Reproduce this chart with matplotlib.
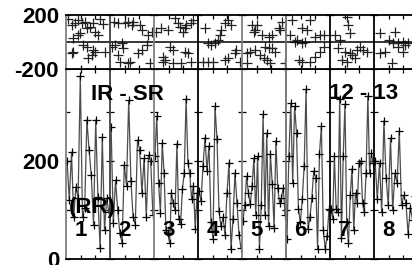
import matplotlib
matplotlib.use("Agg")
import matplotlib.pyplot as plt

plt.rcParams['font.family'] = ['Liberation Sans', 'DejaVu Sans']
plt.rcParams['font.weight'] = 'bold'

# bottom panel: interval series per segment (ms)
seg_values = [
    [200, 120, 218, 86, 147, 124, 373, 86, 105, 284, 222, 171, 70, 284, 127, 22, 249, 59, 124, 95],
    [269, 73, 161, 100, 53, 33, 192, 150, 324, 160, 86, 70, 243, 222, 135, 206, 86, 212, 200, 90],
    [210, 292, 155, 94, 237, 176, 60, 53, 33, 135, 114, 100, 235, 82, 71, 143, 176, 327, 196, 175, 122, 150, 61, 135],
    [139, 118, 190, 247, 180, 231, 75, 41, 312, 245, 98, 67, 85, 50, 135, 196, 20, 82, 176, 114, 50, 22],
    [78, 110, 169, 135, 112, 150, 206, 90, 210, 20, 110, 296, 90, 257, 67, 214, 153, 63, 241, 145, 114, 125, 145, 90],
    [41, 210, 318, 155, 312, 257, 102, 75, 122, 190, 347, 61, 85, 124, 180, 165, 20, 215, 271, 60, 20, 47, 102],
    [102, 82, 210, 102, 95, 327, 43, 210, 316, 75, 33, 130, 184, 60, 135, 114, 196, 200, 114, 95, 176, 333, 176, 216, 196],
    [200, 122, 196, 95, 282, 166, 110, 247, 100, 175, 155, 261, 110, 130, 115, 51, 105, 80, 129, 150],
]

# top panel: difference scatter per segment (position in segment, value)
top_x = [
    [0.05, 0.13, 0.20, 0.28, 0.32, 0.36, 0.43, 0.47, 0.55, 0.62, 0.66, 0.73, 0.77, 0.85, 0.17, 0.28, 0.39, 0.47, 0.17, 0.13, 0.51, 0.58, 0.66, 0.62, 0.89],
    [0.08, 0.19, 0.34, 0.42, 0.49, 0.53, 0.68, 0.72, 0.87, 0.95, 0.04, 0.11, 0.19, 0.27, 0.30, 0.23, 0.42, 0.45, 0.64, 0.72, 0.83, 0.91],
    [0.05, 0.17, 0.32, 0.47, 0.55, 0.58, 0.66, 0.70, 0.73, 0.85, 0.89, 0.20, 0.24, 0.20, 0.36, 0.43, 0.70, 0.77, 0.85, 0.43, 0.62],
    [0.15, 0.53, 0.61, 0.68, 0.76, 0.49, 0.45, 0.38, 0.23, 0.30, 0.11, 0.23, 0.34, 0.61, 0.68, 0.83, 0.95, 0.87],
    [0.23, 0.34, 0.30, 0.27, 0.45, 0.61, 0.68, 0.83, 0.91, 0.87, 0.11, 0.19, 0.30, 0.42, 0.49, 0.53, 0.61, 0.68, 0.76, 0.57, 0.64, 0.11, 0.98],
    [0.14, 0.36, 0.55, 0.48, 0.10, 0.25, 0.36, 0.44, 0.67, 0.78, 0.86, 0.29, 0.36, 0.55, 0.67, 0.78, 0.86, 0.21],
    [0.42, 0.45, 0.38, 0.11, 0.23, 0.19, 0.34, 0.45, 0.61, 0.68, 0.76, 0.83, 0.27, 0.38, 0.57, 0.49],
    [0.14, 0.33, 0.48, 0.44, 0.55, 0.67, 0.70, 0.78, 0.14, 0.25, 0.40, 0.55, 0.67],
]
top_y = [
    [168, 126, 138, 163, 64, 138, 151, 101, 114, 138, 77, 52, 168, 131, 27, 52, -22, -35, -72, -84, -121, -96, -72, -59, -72],
    [151, 138, 138, 151, 126, 151, 126, 89, 52, 77, -35, -22, -96, -10, -47, -146, -158, -146, -84, -59, -22, -158],
    [77, 101, 89, 175, 138, 114, 77, 101, 126, 138, 163, -109, -133, -146, -35, -59, -72, -84, -146, -158, -158],
    [101, 89, 138, 163, 126, 52, 15, -10, -10, -22, -146, -146, -146, -133, -121, -84, -146, -59],
    [126, 126, 89, 77, 52, 40, 52, 101, 151, 89, -84, -72, -59, -96, -121, -35, -47, -47, -72, -133, -158, -158, -158],
    [163, 101, 163, 89, 52, 15, -10, 2, 40, 52, 52, -133, -146, -146, -109, -72, -35, 2],
    [126, 64, 188, 52, 15, -47, -72, -84, -59, -35, -59, -72, -133, -146, -121, -96],
    [64, 15, 77, -10, -10, 2, -22, -10, -84, -72, -158, -35, -72],
]

seg_labels = ['1', '2', '3', '4', '5', '6', '7', '8']
boundary_colors = ['#808080', '#404040', '#808080', 'black', '#808080', '#707070', 'black', 'black']

W, H = 412, 265
fig = plt.figure(figsize=(W / 100, H / 100), dpi=100)

x0, seg_w = 66, 44
for i in range(len(seg_values)):
    left = (x0 + seg_w * i) / W
    # bottom panel
    ax = fig.add_axes([left, (H - 259) / H, seg_w / W, 190 / H])
    vals = seg_values[i]
    n = len(vals)
    xs = [(k + 0.5) / n for k in range(n)]
    ax.plot(xs, vals, color='0.3', lw=0.9, marker='+', ms=6, mec='black', mew=0.9)
    ax.set_xlim(0, 1)
    ax.set_ylim(0, 388)
    ax.set_xticks([1 / 3, 2 / 3])
    ax.set_xticklabels([])
    ax.set_yticks([0, 100, 200, 300])
    ax.tick_params(direction='in', length=3, width=0.9, top=True, right=True,
                   labelsize=16, pad=5)
    if i == 0:
        ax.set_yticklabels(['0', '', '200', ''], fontweight='bold')
    else:
        ax.set_yticklabels([])
    for s in ['top', 'bottom']:
        ax.spines[s].set_linewidth(1.3)
    ax.spines['left'].set_color(boundary_colors[i])
    ax.spines['left'].set_linewidth(1.3)
    ax.spines['right'].set_visible(False)

    # top panel
    at = fig.add_axes([left, (H - 69) / H, seg_w / W, 54 / H])
    at.plot(top_x[i], top_y[i], ls='none', marker='+', ms=7, mec='#222222', mew=0.9)
    at.axhline(0, color='black', lw=1.1)
    at.set_xlim(0, 1)
    at.set_ylim(-200, 200)
    at.set_xticks([1 / 3, 2 / 3])
    at.set_xticklabels([])
    at.set_yticks([-200, 200])
    at.tick_params(direction='in', length=3, width=0.9, top=True, right=True,
                   labelsize=16, pad=5)
    if i == 0:
        at.set_yticklabels(['-200', '200'], fontweight='bold')
    else:
        at.set_yticklabels([])
    for s in ['top', 'bottom']:
        at.spines[s].set_linewidth(1.3)
    at.spines['left'].set_color(boundary_colors[i])
    at.spines['left'].set_linewidth(1.3)
    at.spines['right'].set_visible(False)

    ax.text(0.33, 0.15, seg_labels[i], transform=ax.transAxes, ha='center',
            va='center', fontsize=16, fontweight='bold')


def ftext(x, y, s):
    fig.text(x / W, 1 - y / H, s, ha='center', va='center', fontsize=16,
             fontweight='bold')


ftext(127, 95, 'IR - SR')
ftext(364, 94, '12 - 13')
ftext(92, 207, '(RR)')

fig.savefig('out.png', dpi=100)
